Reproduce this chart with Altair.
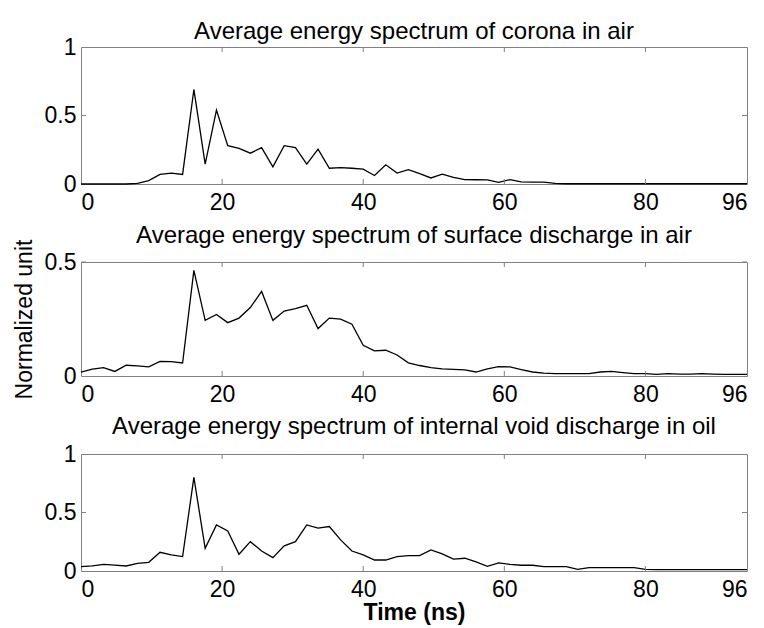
import altair as alt
import pandas as pd

# sample times (ns) - 1.6 ns sampling grid
time_ns = [0.0, 1.6, 3.2, 4.8, 6.4, 8.0, 9.6, 11.2, 12.8, 14.4,
           16.0, 17.6, 19.2, 20.8, 22.4, 24.0, 25.6, 27.2, 28.8, 30.4,
           32.0, 33.6, 35.2, 36.8, 38.4, 40.0, 41.6, 43.2, 44.8, 46.4,
           48.0, 49.6, 51.2, 52.8, 54.4, 56.0, 57.6, 59.2, 60.8, 62.4,
           64.0, 65.6, 67.2, 68.8, 70.4, 72.0, 73.6, 75.2, 76.8, 78.4,
           80.0, 81.6, 83.2, 84.8, 86.4, 88.0, 89.6, 91.2, 92.8, 94.4]

corona_air = [0, 0, 0, 0, 0, 0.005, 0.025, 0.07, 0.08, 0.07,
              0.69, 0.145, 0.54, 0.28, 0.26, 0.225, 0.265, 0.125, 0.28, 0.265,
              0.145, 0.255, 0.115, 0.12, 0.115, 0.108, 0.062, 0.14, 0.08, 0.105,
              0.075, 0.044, 0.072, 0.048, 0.032, 0.031, 0.03, 0.012, 0.032, 0.015,
              0.014, 0.013, 0.004, 0.002, 0.002, 0.002, 0.002, 0.002, 0.002, 0.002,
              0.002, 0.002, 0.002, 0.002, 0.002, 0.002, 0.002, 0.002, 0.002, 0.002]

surface_air = [0.0175, 0.03, 0.037, 0.02, 0.047, 0.044, 0.04, 0.064, 0.063, 0.057,
               0.463, 0.244, 0.27, 0.234, 0.254, 0.30, 0.371, 0.244, 0.285, 0.295,
               0.31, 0.208, 0.254, 0.249, 0.227, 0.135, 0.11, 0.113, 0.092, 0.058,
               0.046, 0.037, 0.031, 0.029, 0.027, 0.0175, 0.031, 0.041, 0.04, 0.028,
               0.0175, 0.013, 0.01, 0.01, 0.01, 0.01, 0.0175, 0.02, 0.015, 0.01,
               0.01, 0.007, 0.01, 0.008, 0.008, 0.01, 0.008, 0.007, 0.007, 0.007]

void_oil = [0.037, 0.043, 0.057, 0.051, 0.043, 0.066, 0.074, 0.16, 0.137, 0.123,
            0.80, 0.194, 0.394, 0.343, 0.143, 0.251, 0.171, 0.114, 0.215, 0.251,
            0.394, 0.366, 0.38, 0.266, 0.171, 0.137, 0.094, 0.094, 0.123, 0.131,
            0.131, 0.18, 0.147, 0.102, 0.109, 0.078, 0.04, 0.07, 0.057, 0.049,
            0.049, 0.037, 0.037, 0.037, 0.014, 0.029, 0.029, 0.029, 0.029, 0.029,
            0.014, 0.011, 0.011, 0.011, 0.011, 0.011, 0.011, 0.011, 0.011, 0.011]

titles = ["Average energy spectrum of corona in air",
          "Average energy spectrum of surface discharge in air",
          "Average energy spectrum of internal void discharge in oil"]

x_tick_values = [0, 20, 40, 60, 80, 94.4]
x_tick_labels = ["0", "20", "40", "60", "80", "96"]
x_domain = [0, 94.4]

y_ticks_1 = [0, 0.5, 1]
y_labels_1 = ["0", "0.5", "1"]
y_ticks_2 = [0, 0.5]
y_labels_2 = ["0", "0.5"]

FONT = "Liberation Sans"
TITLE_FS = 24
LABEL_FS = 23
W = 666
FRAME = "#808080"


def label_expr(values, labels):
    expr = "''"
    for v, l in zip(values, labels):
        expr = f"abs(datum.value - {v}) < 0.001 ? '{l}' : ({expr})"
    return expr


def panel(values, title, height, y_dom, y_ticks, y_labels, ytitle=None, xtitle=None, title_dy=0):
    df = pd.DataFrame({"t": time_ns, "v": values})
    xscale = alt.Scale(domain=x_domain, nice=False, zero=False)
    yscale = alt.Scale(domain=y_dom, nice=False, zero=False)
    common = dict(labelFont=FONT, labelFontSize=LABEL_FS, labelColor="black",
                  domain=False, ticks=False, grid=False)
    xaxis_kw = dict(values=x_tick_values, labelExpr=label_expr(x_tick_values, x_tick_labels),
                    labelPadding=7, **common)
    if xtitle:
        xaxis = alt.Axis(title=xtitle, titleFontWeight="bold", titleFontSize=LABEL_FS,
                         titlePadding=0, titleFont=FONT, titleColor="black", **xaxis_kw)
    else:
        xaxis = alt.Axis(title=None, **xaxis_kw)
    yaxis_kw = dict(values=y_ticks, labelExpr=label_expr(y_ticks, y_labels),
                    labelPadding=5, **common)
    if ytitle:
        yaxis = alt.Axis(title=ytitle, titleFontWeight="normal", titleFontSize=LABEL_FS,
                         titlePadding=8, titleFont=FONT, titleColor="black", **yaxis_kw)
    else:
        yaxis = alt.Axis(title=None, **yaxis_kw)

    line = alt.Chart(df).mark_line(color="black", strokeWidth=1.3).encode(
        x=alt.X("t:Q", scale=xscale, axis=xaxis),
        y=alt.Y("v:Q", scale=yscale, axis=yaxis),
    )
    xt = pd.DataFrame({"t": x_tick_values[1:-1]})
    yt = pd.DataFrame({"v": y_ticks[1:-1] if len(y_ticks) > 2 else y_ticks[1:]})
    xb = alt.Chart(xt).mark_rule(color=FRAME, strokeWidth=1).encode(
        x=alt.X("t:Q"), y=alt.value(height), y2=alt.value(height - 5))
    xtop = alt.Chart(xt).mark_rule(color=FRAME, strokeWidth=1).encode(
        x=alt.X("t:Q"), y=alt.value(0), y2=alt.value(5))
    yl = alt.Chart(yt).mark_rule(color=FRAME, strokeWidth=1).encode(
        y=alt.Y("v:Q"), x=alt.value(0), x2=alt.value(5))
    yr = alt.Chart(yt).mark_rule(color=FRAME, strokeWidth=1).encode(
        y=alt.Y("v:Q"), x=alt.value(W - 5), x2=alt.value(W))
    return alt.layer(line, xb, xtop, yl, yr).properties(
        width=W, height=height,
        title=alt.TitleParams(title, fontSize=TITLE_FS, font=FONT, fontWeight="normal",
                              color="black", anchor="middle", offset=0, dy=title_dy),
    )


p1 = panel(corona_air, titles[0], 137, [0, 1], y_ticks_1, y_labels_1, title_dy=8)
p2 = panel(surface_air, titles[1], 114, [0, 0.5], y_ticks_2, y_labels_2,
           ytitle="Normalized unit", title_dy=9)
p3 = panel(void_oil, titles[2], 117, [0, 1], y_ticks_1, y_labels_1,
           xtitle="Time (ns)", title_dy=-4)

chart = alt.vconcat(p1, p2, p3, spacing=78, bounds="flush").properties(
    padding={"left": 12, "top": 19, "right": 4, "bottom": 4},
    background="white",
).configure_view(stroke=FRAME, strokeWidth=1)

chart.save("out.html", embed_options={"renderer": "svg", "actions": False})
